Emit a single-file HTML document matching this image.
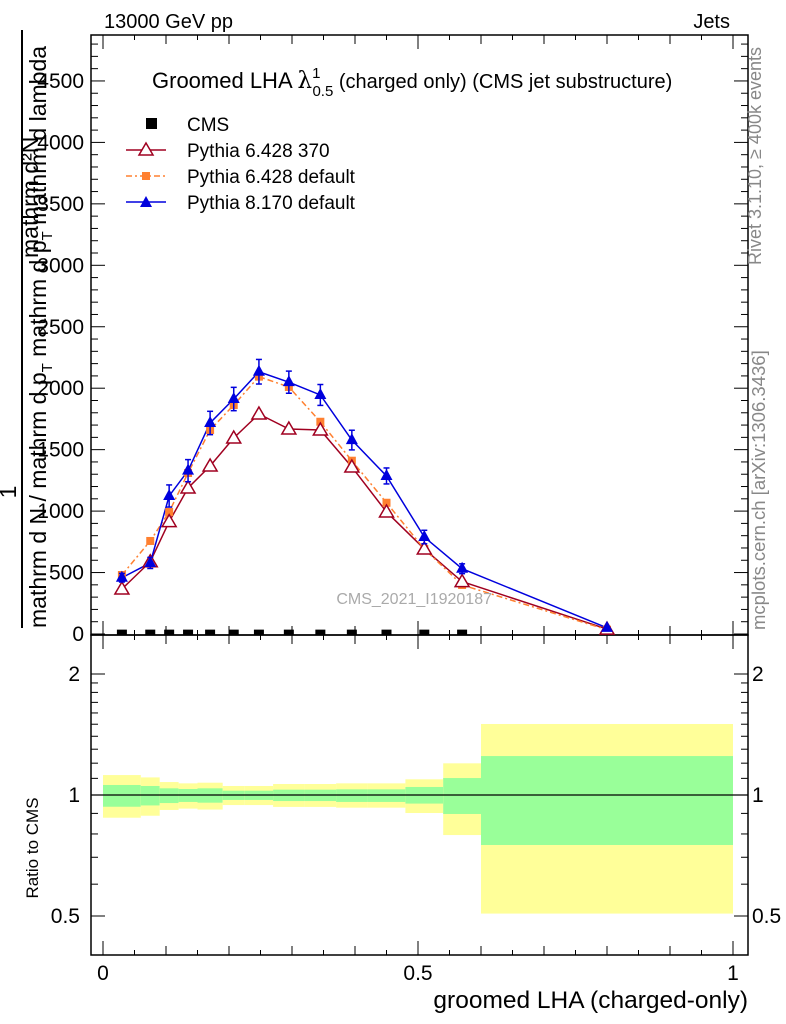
<!DOCTYPE html>
<html><head><meta charset="utf-8"><style>
body{margin:0;background:#fff}
svg{display:block;font-family:"Liberation Sans",sans-serif}
</style></head><body>
<svg id="c" width="786" height="1024" viewBox="0 0 786 1024">
<defs><clipPath id="mclip"><rect x="91" y="35" width="657" height="600"/></clipPath></defs>
<g id="ratioBands"></g>
<g id="axes"></g>
<g id="series" clip-path="url(#mclip)"></g>
<text x="104" y="28" font-size="20">13000 GeV pp</text>
<text x="730" y="28" font-size="20" text-anchor="end">Jets</text>
<text x="152" y="88" font-size="22">Groomed LHA <tspan font-family="DejaVu Serif,serif" font-size="23">λ</tspan><tspan font-size="15" dy="-10">1</tspan><tspan font-size="15" dx="-8" dy="18">0.5</tspan><tspan font-size="20" dy="-8">  (charged only) (CMS jet substructure)</tspan></text>
<g>
<rect x="146" y="118" width="11" height="11" fill="#000"/>
<text x="187" y="131" font-size="19">CMS</text>
<line x1="126" y1="150" x2="166" y2="150" stroke="#a00020" stroke-width="1.5"/>
<polygon points="146,143 153,155 139,155" fill="#fff" stroke="#a00020" stroke-width="1.5"/>
<text x="187" y="157" font-size="19">Pythia 6.428 370</text>
<line x1="126" y1="176" x2="166" y2="176" stroke="#ff8030" stroke-width="1.5" stroke-dasharray="6,3,2,3"/>
<rect x="142" y="172" width="8" height="8" fill="#ff8030"/>
<text x="187" y="183" font-size="19">Pythia 6.428 default</text>
<line x1="126" y1="202" x2="166" y2="202" stroke="#0000dd" stroke-width="1.5"/>
<polygon points="146,196 152,207 140,207" fill="#0000dd"/>
<text x="187" y="209" font-size="19">Pythia 8.170 default</text>
</g>
<text x="492" y="604" font-size="16" fill="#aaa" text-anchor="end">CMS_2021_I1920187</text>
<text transform="translate(761,265) rotate(-90)" font-size="18" fill="#888">Rivet 3.1.10, ≥ 400k events</text>
<text transform="translate(765,630) rotate(-90)" font-size="18.5" fill="#888">mcplots.cern.ch [arXiv:1306.3436]</text>
<g font-size="23">
<text transform="translate(38,258) rotate(-90)">mathrm d²N</text>
<line x1="22" y1="30" x2="22" y2="628" stroke="#000" stroke-width="2"/>
<text transform="translate(16,492) rotate(-90)" text-anchor="middle">1</text>
<text transform="translate(46,628) rotate(-90)">mathrm d N / mathrm d p<tspan font-size="15" dy="6">T</tspan><tspan dy="-6"> mathrm d p</tspan><tspan font-size="15" dy="6">T</tspan><tspan dy="-6"> mathrm d lambda</tspan></text>
</g>
<text transform="translate(38,848) rotate(-90)" font-size="17" text-anchor="middle">Ratio to CMS</text>
<text x="748" y="1008" font-size="24.5" text-anchor="end">groomed LHA (charged-only)</text>
</svg>
<script>
const edges=[0,0.06,0.09,0.12,0.15,0.19,0.225,0.27,0.32,0.37,0.42,0.48,0.54,0.6,1.0];
const mids=[0.03,0.075,0.105,0.135,0.17,0.2075,0.2475,0.295,0.345,0.395,0.45,0.51,0.57,0.8];
const cms=[3,3,3,3,3,3,3,3,3,3,3,3,3];
const py6_370=[366,588,914,1188,1367,1595,1790,1668,1660,1359,993,692,426,40];
const py6_def=[480,757,993,1310,1660,1863,2094,2010,1727,1410,1068,692,399,35];
const py8_def=[458,578,1123,1329,1717,1912,2134,2049,1945,1578,1286,789,531,50];
const py8_err=[35,45,90,90,95,95,100,90,85,80,65,55,40,10];
const totUp=[1.121,1.106,1.077,1.069,1.073,1.053,1.053,1.065,1.065,1.069,1.069,1.094,1.199,1.502];
const statUp=[1.059,1.053,1.039,1.035,1.039,1.025,1.025,1.031,1.031,1.033,1.033,1.047,1.102,1.25];
const statDn=[0.935,0.942,0.955,0.961,0.957,0.972,0.972,0.966,0.966,0.961,0.961,0.952,0.897,0.751];
const totDn=[0.878,0.888,0.918,0.925,0.920,0.944,0.944,0.934,0.934,0.930,0.930,0.902,0.795,0.507];
const yTicks=[0,500,1000,1500,2000,2500,3000,3500,4000,4500];
const rTicks=[0.5,1,2];

const NS='http://www.w3.org/2000/svg';
const X=v=>103+630*v;
const Y=v=>634-0.1229*v;
const R=v=>795-121*Math.log2(v);
function mk(t,a,p){const e=document.createElementNS(NS,t);for(const k in a)e.setAttribute(k,a[k]);p.appendChild(e);return e;}
const ax=document.getElementById('axes'),se=document.getElementById('series'),rb=document.getElementById('ratioBands');

for(let i=0;i<mids.length;i++){
 const x0=X(edges[i]),x1=X(edges[i+1]);
 const y=mk('rect',{x:x0,y:R(totUp[i]),width:x1-x0,height:R(totDn[i])-R(totUp[i]),fill:'#ffff99'},rb);
 
 
 const g=mk('rect',{x:x0,y:R(statUp[i]),width:x1-x0,height:R(statDn[i])-R(statUp[i]),fill:'#99ff99'},rb);
 
 
}
mk('line',{x1:91,x2:748,y1:R(1),y2:R(1),stroke:'#000','stroke-width':1.3},rb);

mk('rect',{x:91,y:35,width:657,height:600,fill:'none',stroke:'#000','stroke-width':1.5},ax);
mk('rect',{x:91,y:635,width:657,height:320,fill:'none',stroke:'#000','stroke-width':1.5},ax);
for(let v=0;v<=4800;v+=100){const y=Y(v);const L=v%500===0?14:7;
 mk('line',{x1:91,x2:91+L,y1:y,y2:y,stroke:'#000'},ax);mk('line',{x1:748,x2:748-L,y1:y,y2:y,stroke:'#000'},ax);}
yTicks.forEach(v=>{const t=mk('text',{x:84,y:Y(v)+7,'font-size':21,'text-anchor':'end'},ax);t.textContent=v;
 
 });
for(let k=0;k<=20;k++){const v=k*0.05,x=X(v);const L=k%10===0?14:(k%2===0?9:5);
 [[635,-1],[955,-1],[35,1],[635,1]].forEach(([y,d])=>mk('line',{x1:x,x2:x,y1:y,y2:y+d*L,stroke:'#000'},ax));}
[[0,'0'],[0.5,'0.5'],[1,'1']].forEach(([v,s])=>{const t=mk('text',{x:X(v),y:980,'font-size':21,'text-anchor':'middle'},ax);t.textContent=s;
 
 });
[0.5,0.6,0.7,0.8,0.9,1,1.1,1.2,1.3,1.4,1.5,1.6,1.7,1.8,1.9,2].forEach(v=>{const y=R(v);const L=(v===0.5||v===1||v===2)?14:7;
 mk('line',{x1:91,x2:91+L,y1:y,y2:y,stroke:'#000'},ax);mk('line',{x1:748,x2:748-L,y1:y,y2:y,stroke:'#000'},ax);});
rTicks.forEach(v=>{[[80,'end'],[752,'start']].forEach(([x,a])=>{const t=mk('text',{x:x,y:R(v)+7,'font-size':21,'text-anchor':a},ax);t.textContent=v;
 
 });});

function line(vals,col,dash){const pts=vals.map((v,i)=>X(mids[i])+','+Y(v)).join(' ');
 const a={points:pts,fill:'none',stroke:col,'stroke-width':1.5};if(dash)a['stroke-dasharray']=dash;return mk('polyline',a,se);}
const l1=line(py6_370,'#a00020');


const l2=line(py6_def,'#ff8030','6,3,2,3');


const l3=line(py8_def,'#0000dd');


py6_def.forEach((v,i)=>{const r=mk('rect',{x:X(mids[i])-4,y:Y(v)-4,width:8,height:8,fill:'#ff8030'},se);
 
 });
py6_370.forEach((v,i)=>{const x=X(mids[i]),y=Y(v);const p=mk('polygon',{points:`${x},${y-7} ${x+7},${y+5} ${x-7},${y+5}`,fill:'#fff',stroke:'#a00020','stroke-width':1.5},se);
 
 });
py8_def.forEach((v,i)=>{const x=X(mids[i]),y=Y(v),e=py8_err[i];
 mk('line',{x1:x,x2:x,y1:Y(v+e),y2:Y(v-e),stroke:'#0000dd','stroke-width':1.5},se);
 mk('line',{x1:x-3,x2:x+3,y1:Y(v+e),y2:Y(v+e),stroke:'#0000dd','stroke-width':1.5},se);
 mk('line',{x1:x-3,x2:x+3,y1:Y(v-e),y2:Y(v-e),stroke:'#0000dd','stroke-width':1.5},se);
 const p=mk('polygon',{points:`${x},${y-7} ${x+6},${y+4} ${x-6},${y+4}`,fill:'#0000dd'},se);
 
 });
cms.forEach((v,i)=>{const r=mk('rect',{x:X(mids[i])-5,y:Y(v)-4,width:10,height:10,fill:'#000'},se);
 
 });
</script>
</body></html>
